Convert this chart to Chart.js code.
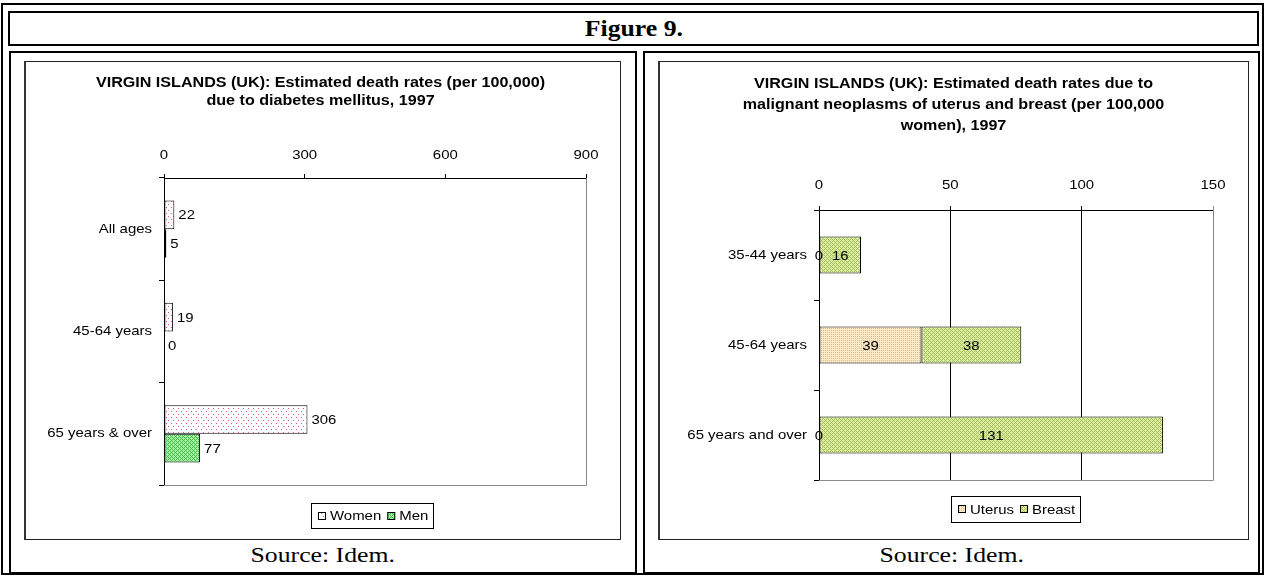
<!DOCTYPE html>
<html><head><meta charset="utf-8">
<script src="https://cdn.jsdelivr.net/npm/chart.js@4.4.0/dist/chart.umd.min.js"></script>
<style>
html,body{margin:0;padding:0;background:#fff;}
body{width:1265px;height:576px;overflow:hidden;position:relative;font-family:"Liberation Serif","Times New Roman",serif;}
.b{position:absolute;box-sizing:border-box;}
#outer{left:1px;top:3px;width:1263px;height:572px;border:2px solid #000;}
#header{left:8px;top:11px;width:1251px;height:35px;border:2px solid #000;text-align:center;font-weight:bold;font-size:23px;line-height:31px;}
#cellL{left:9px;top:51px;width:628px;height:523px;border:2px solid #000;}
#cellR{left:643px;top:51px;width:617px;height:523px;border:2px solid #000;}
#boxL{left:24px;top:61px;width:597px;height:479px;border:1px solid #222;border-left:2px solid #333;}
#boxR{left:658px;top:61px;width:591px;height:479px;border:1px solid #222;border-left:2px solid #333;}
.src{position:absolute;font-size:22px;text-align:center;top:542px;line-height:26px;}
.sx{display:inline-block;transform:scaleX(1.17);transform-origin:50% 50%;}
.sxh{display:inline-block;transform:scaleX(1.12);transform-origin:50% 50%;}
canvas{position:absolute;}
</style>
</head><body>
<div class="b" id="outer"></div>
<div class="b" id="header"><span class="sxh">Figure 9.</span></div>
<div class="b" id="cellL"></div>
<div class="b" id="cellR"></div>
<div class="b" id="boxL"></div>
<div class="b" id="boxR"></div>
<div class="src" style="left:11px;width:624px;"><span class="sx">Source: Idem.</span></div>
<div class="src" style="left:645px;width:613px;"><span class="sx">Source: Idem.</span></div>
<canvas id="cL" width="595" height="477" style="left:25px;top:62px;"></canvas>
<canvas id="cR" width="589" height="477" style="left:659px;top:62px;"></canvas>
<script>
// ---- data ----
const diabetesCategories = ['All ages', '45-64 years', '65 years & over'];
const diabetesWomen = [22, 19, 306];
const diabetesMen = [5, 0, 77];
const diabetesTicks = [0, 300, 600, 900];
const diabetesTitle = ['VIRGIN ISLANDS (UK): Estimated death rates (per 100,000)', 'due to diabetes mellitus, 1997'];

const cancerCategories = ['35-44 years', '45-64 years', '65 years and over'];
const cancerUterus = [0, 39, 0];
const cancerBreast = [16, 38, 131];
const cancerTicks = [0, 50, 100, 150];
const cancerTitle = ['VIRGIN ISLANDS (UK): Estimated death rates due to', 'malignant neoplasms of uterus and breast (per 100,000', 'women), 1997'];

// ---- patterns ----
function makePattern(w, h, base, dot, pts) {
  const c = document.createElement('canvas'); c.width = w; c.height = h;
  const x = c.getContext('2d');
  x.fillStyle = base; x.fillRect(0, 0, w, h);
  x.fillStyle = dot; pts.forEach(p => x.fillRect(p[0], p[1], 1, 1));
  return x.createPattern(c, 'repeat');
}
const diamond = [[0,0],[1,1],[1,3],[2,2],[3,1],[3,3]];
const pWomen = makePattern(5, 6, '#ffffff', '#dd5577', [[1,1],[3,4]]);
const pMen = makePattern(4, 4, '#9ff59f', '#4fb84f', diamond);
const pUterus = makePattern(2, 2, '#fbe9c8', '#d9ba8c', [[0,0]]);
const pBreast = makePattern(4, 4, '#dcee9e', '#a3bf60', diamond);

// the reference text is horizontally wider than Arial: stretch glyphs around their anchor
const SX = 1.15;
function stretchText(ctx) {
  const f = ctx.fillText.bind(ctx);
  ctx.fillText = function (t, x, y, mw) {
    ctx.save(); ctx.translate(x, y); ctx.scale(SX, 1);
    if (mw === undefined || mw === null) f(t, 0, 0); else f(t, 0, 0, mw / SX);
    ctx.restore();
  };
}

const FAM = '"Liberation Sans", Arial, sans-serif';
Chart.defaults.font.family = FAM;
Chart.defaults.font.size = 13;
Chart.defaults.color = '#000';

const fixedSize = (w, h) => (scale) => { if (w != null) scale.width = w; if (h != null) scale.height = h; };

// title, plot-area border, data labels, boxed legend
const decor = {
  id: 'decor',
  beforeDatasetsDraw(chart, args, o) {
    const {ctx, chartArea: a} = chart;
    ctx.save();
    ctx.strokeStyle = '#8c8c8c'; ctx.lineWidth = 1;
    ctx.beginPath();
    ctx.moveTo(a.right + 0.5, a.top); ctx.lineTo(a.right + 0.5, a.bottom + 0.5);
    ctx.lineTo(a.left, a.bottom + 0.5);
    ctx.stroke();
    ctx.restore();
  },
  afterDatasetsDraw(chart, args, o) {
    const ctx = chart.ctx;
    ctx.save();
    ctx.font = '13px ' + FAM;
    ctx.fillStyle = '#000';
    ctx.textBaseline = 'middle';
    chart.data.datasets.forEach((ds, i) => {
      chart.getDatasetMeta(i).data.forEach((el, j) => {
        const v = ds.data[j];
        if (o.mode === 'end') { ctx.textAlign = 'left'; ctx.fillText(String(v), el.x + 4, el.y + 1); }
        else { ctx.textAlign = 'center'; ctx.fillText(String(v), (el.x + el.base) / 2, el.y + 1); }
      });
    });
    ctx.restore();
  },
  afterDraw(chart, args, o) {
    const {ctx, chartArea: a} = chart;
    ctx.save();
    // title
    ctx.font = 'bold 14px ' + FAM;
    ctx.fillStyle = '#000'; ctx.textAlign = 'center'; ctx.textBaseline = 'middle';
    o.title.forEach((line, k) => ctx.fillText(line, chart.width / 2 + o.titleDx, o.titleY + k * o.titleLH));
    // legend
    ctx.font = '13px ' + FAM;
    const sq = 8, gap = 4, itemGap = 6, pad = 6;
    const items = chart.data.datasets.map(d => ({label: d.label, fill: d.backgroundColor, w: ctx.measureText(d.label).width * SX}));
    const total = Math.round(pad * 2 + items.reduce((s, it) => s + sq + gap + it.w, 0) + itemGap * (items.length - 1));
    const h = o.legendH;
    const x = Math.round((a.left + a.right) / 2 - total / 2 + o.legendDx);
    const y = Math.round(a.bottom + o.legendDy);
    ctx.fillStyle = '#fff';
    ctx.fillRect(x + 0.5, y + 0.5, total, h);
    ctx.strokeStyle = '#000'; ctx.lineWidth = 1;
    ctx.strokeRect(x + 0.5, y + 0.5, total, h);
    let cx = x + pad + 1;
    items.forEach(it => {
      const sy = Math.round(y + h / 2 - sq / 2);
      ctx.fillStyle = it.fill; ctx.fillRect(cx, sy, sq, sq);
      ctx.strokeStyle = '#000'; ctx.strokeRect(cx + 0.5, sy + 0.5, sq - 1, sq - 1);
      cx += sq + gap;
      ctx.fillStyle = '#000'; ctx.textAlign = 'left'; ctx.textBaseline = 'middle';
      ctx.fillText(it.label, cx, y + h / 2 + 1);
      cx += it.w + itemGap;
    });
    ctx.restore();
  }
};

const ctxL = document.getElementById('cL').getContext('2d');
const ctxR = document.getElementById('cR').getContext('2d');
stretchText(ctxL); stretchText(ctxR);

// ---- left chart: diabetes ----
new Chart(ctxL, {
  type: 'bar',
  data: {
    labels: diabetesCategories,
    datasets: [
      { label: 'Women', data: diabetesWomen, backgroundColor: pWomen, borderColor: '#000', borderWidth: 1, borderSkipped: false },
      { label: 'Men', data: diabetesMen, backgroundColor: pMen, borderColor: '#000', borderWidth: 1, borderSkipped: false }
    ]
  },
  options: {
    indexAxis: 'y', responsive: false, animation: false, devicePixelRatio: 1,
    categoryPercentage: 0.56, barPercentage: 1.0,
    layout: { padding: { left: 0, right: 34, top: 76, bottom: 54 } },
    plugins: {
      legend: { display: false }, tooltip: { enabled: false }, title: { display: false },
      decor: { mode: 'end', title: diabetesTitle, titleY: 21, titleLH: 18, titleDx: -2,
               legendH: 25, legendDy: 18, legendDx: -3 }
    },
    scales: {
      x: { position: 'top', min: 0, max: 900,
        afterBuildTicks: (s) => { s.ticks = diabetesTicks.map(v => ({ value: v })); },
        afterFit: fixedSize(null, 40),
        ticks: { padding: 11, font: { size: 13 }, color: '#000' },
        grid: { drawOnChartArea: false, tickLength: 4, color: '#000' },
        border: { color: '#000', width: 1 } },
      y: { afterFit: fixedSize(139, null),
        ticks: { padding: 7, font: { size: 13 }, color: '#000' },
        grid: { drawOnChartArea: false, tickLength: 5, color: '#000', offset: true },
        border: { color: '#000', width: 1 } }
    }
  },
  plugins: [decor]
});

// ---- right chart: uterus & breast ----
new Chart(ctxR, {
  type: 'bar',
  data: {
    labels: cancerCategories,
    datasets: [
      { label: 'Uterus', data: cancerUterus, backgroundColor: pUterus, borderColor: '#000', borderWidth: 1, borderSkipped: false },
      { label: 'Breast', data: cancerBreast, backgroundColor: pBreast, borderColor: '#000', borderWidth: 1, borderSkipped: false }
    ]
  },
  options: {
    indexAxis: 'y', responsive: false, animation: false, devicePixelRatio: 1,
    categoryPercentage: 0.41, barPercentage: 1.0,
    layout: { padding: { left: 0, right: 35, top: 108, bottom: 59 } },
    plugins: {
      legend: { display: false }, tooltip: { enabled: false }, title: { display: false },
      decor: { mode: 'center', title: cancerTitle, titleY: 22, titleLH: 21, titleDx: 0,
               legendH: 26, legendDy: 16, legendDx: -1 }
    },
    scales: {
      x: { position: 'top', stacked: true, min: 0, max: 150,
        afterBuildTicks: (s) => { s.ticks = cancerTicks.map(v => ({ value: v })); },
        afterFit: fixedSize(null, 40),
        ticks: { padding: 13, font: { size: 13 }, color: '#000' },
        grid: { drawOnChartArea: true, tickLength: 4,
          color: (c) => (c.tick && c.tick.value === 150) ? '#8c8c8c' : '#000' },
        border: { color: '#000', width: 1 } },
      y: { stacked: true, afterFit: fixedSize(160, null),
        ticks: { padding: 7, font: { size: 13 }, color: '#000' },
        grid: { drawOnChartArea: false, tickLength: 5, color: '#000', offset: true },
        border: { color: '#000', width: 1 } }
    }
  },
  plugins: [decor]
});
</script>
</body></html>
